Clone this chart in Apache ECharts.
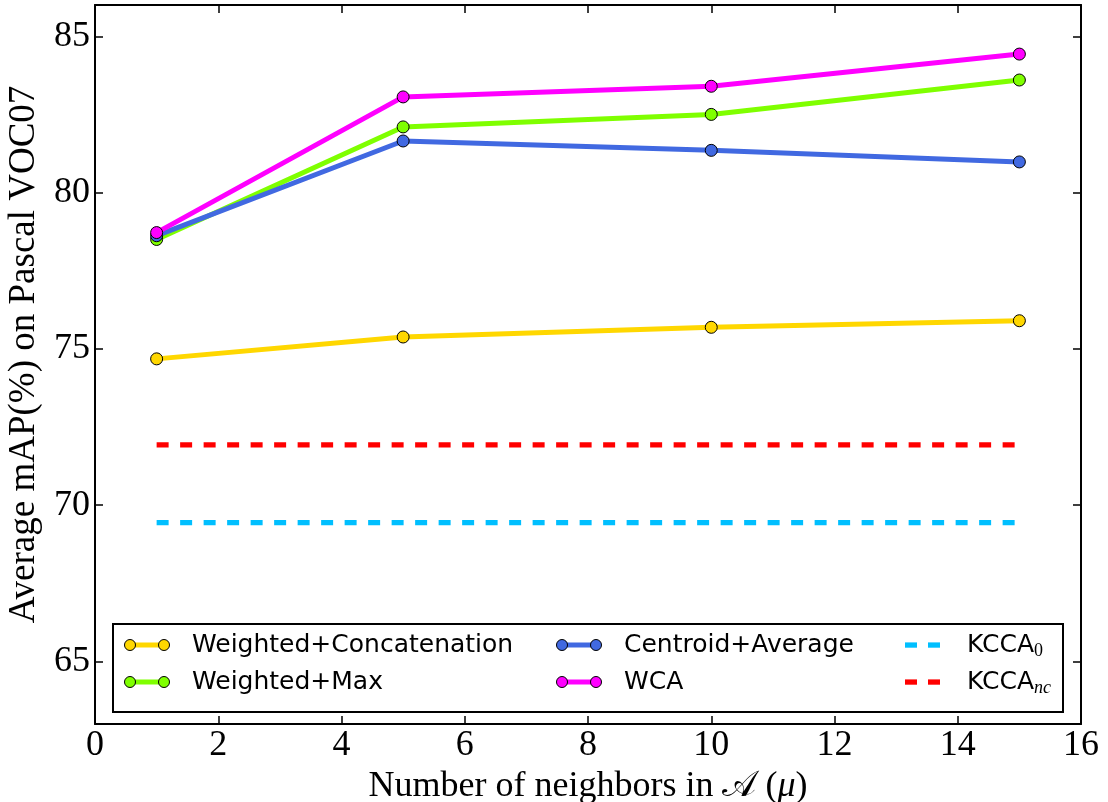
<!DOCTYPE html>
<html>
<head>
<meta charset="utf-8">
<script src="https://cdn.jsdelivr.net/npm/echarts@6/dist/echarts.min.js"></script>
<style>html,body{margin:0;padding:0;background:#fff}#c{width:1108px;height:802px}</style>
</head>
<body>
<div id="c"></div>
<script>
// ---- data ----
const xValues = [1, 5, 10, 15];
const weightedConcat = [74.68, 75.38, 75.69, 75.90];
const weightedMax = [78.50, 82.10, 82.50, 83.60];
const centroidAvg = [78.62, 81.65, 81.35, 80.98];
const wca = [78.72, 83.06, 83.40, 84.43];
const kccaX = [1, 15];
const kcca0 = [69.44, 69.44];
const kccaNc = [71.93, 71.93];
const yTickValues = [65, 70, 75, 80, 85];
const seriesNames = ['Weighted+Concatenation', 'Weighted+Max', 'Centroid+Average', 'WCA', 'KCCA_0', 'KCCA_nc'];
const xAxisTitle = 'Number of neighbors in {s|𝒜} ({i|μ})';
const yAxisTitle = 'Average mAP(%) on Pascal VOC07';

// ---- styles ----
const colors = ['#FFD700', '#7FFF00', '#4169E1', '#FF00FF', '#00BFFF', '#FF0000'];
const serif = "'Liberation Serif', 'Times New Roman', serif";

function pairs(xs, ys) { return xs.map((x, i) => [x, ys[i]]); }

function dumbbell(color) {
  const svg = '<svg xmlns="http://www.w3.org/2000/svg" width="63" height="14" viewBox="0 0 63 14">' +
    '<line x1="6" y1="7" x2="40" y2="7" stroke="' + color + '" stroke-width="5"/>' +
    '<circle cx="6" cy="7" r="5.5" fill="' + color + '" stroke="#000" stroke-width="1"/>' +
    '<circle cx="40" cy="7" r="5.5" fill="' + color + '" stroke="#000" stroke-width="1"/></svg>';
  return 'image://data:image/svg+xml;charset=utf-8,' + encodeURIComponent(svg);
}
function dashIcon(color) {
  const svg = '<svg xmlns="http://www.w3.org/2000/svg" width="63" height="14" viewBox="0 0 63 14">' +
    '<rect x="6" y="4.4" width="12" height="5.3" fill="' + color + '"/>' +
    '<rect x="29" y="4.4" width="12" height="5.3" fill="' + color + '"/></svg>';
  return 'image://data:image/svg+xml;charset=utf-8,' + encodeURIComponent(svg);
}

function solidSeries(idx, ys) {
  return {
    name: seriesNames[idx], type: 'line', data: pairs(xValues, ys),
    symbol: 'circle', symbolSize: 12, showSymbol: true,
    lineStyle: { width: 5, color: colors[idx] },
    itemStyle: { color: colors[idx], borderColor: '#000', borderWidth: 1 },
    emphasis: { disabled: true }, z: 2 + idx
  };
}
function dashedSeries(idx, ys) {
  return {
    name: seriesNames[idx], type: 'line', data: pairs(kccaX, ys),
    symbol: 'none',
    lineStyle: { width: 5.3, color: colors[idx], type: [12, 11.5], cap: 'butt' },
    itemStyle: { color: colors[idx] },
    emphasis: { disabled: true }, z: 2
  };
}

const axisLineStyle = { show: true, onZero: false, lineStyle: { color: '#000', width: 2 } };
const tickStyle = { show: true, inside: true, length: 8, lineStyle: { color: '#000', width: 1.5 } };

const chart = echarts.init(document.getElementById('c'), null, { renderer: 'canvas' });
chart.setOption({
  animation: false,
  backgroundColor: '#fff',
  grid: { left: 95, right: 27, top: 5, bottom: 78, containLabel: false, outerBoundsMode: 'none' },
  xAxis: [
    {
      type: 'value', position: 'bottom', min: 0, max: 16, interval: 2,
      axisLine: axisLineStyle, axisTick: tickStyle, splitLine: { show: false },
      axisLabel: { color: '#000', fontFamily: serif, fontSize: 36, margin: 4 },
      name: xAxisTitle, nameLocation: 'middle', nameGap: 36,
      nameTextStyle: {
        color: '#000', fontFamily: serif, fontSize: 36,
        rich: {
          s: { fontSize: 36, color: '#000', fontFamily: "'DejaVu Serif', 'DejaVu Sans', serif" },
          i: { fontSize: 36, color: '#000', fontStyle: 'italic', fontFamily: serif }
        }
      }
    },
    {
      type: 'value', position: 'top', min: 0, max: 16, interval: 2,
      axisLine: axisLineStyle, axisTick: tickStyle, splitLine: { show: false },
      axisLabel: { show: false }
    }
  ],
  yAxis: [
    {
      type: 'value', position: 'left', min: 63, max: 86,
      axisLine: axisLineStyle,
      axisTick: Object.assign({}, tickStyle, { customValues: yTickValues }),
      splitLine: { show: false },
      axisLabel: { color: '#000', fontFamily: serif, fontSize: 36, margin: 5, customValues: yTickValues },
      name: yAxisTitle, nameLocation: 'middle', nameGap: 47,
      nameTextStyle: { color: '#000', fontFamily: serif, fontSize: 37, padding: [0, 0, 0, 20] }
    },
    {
      type: 'value', position: 'right', min: 63, max: 86,
      axisLine: axisLineStyle,
      axisTick: Object.assign({}, tickStyle, { customValues: yTickValues }),
      splitLine: { show: false },
      axisLabel: { show: false, customValues: yTickValues }
    }
  ],
  legend: {
    orient: 'horizontal', left: 113, top: 624, width: 940,
    padding: [6, 6, 15, 11], itemGap: 7, itemWidth: 63, itemHeight: 14,
    borderColor: '#000', borderWidth: 2, backgroundColor: '#fff',
    selectedMode: false,
    textStyle: {
      fontFamily: "'DejaVu Sans', sans-serif", fontSize: 25, color: '#000', lineHeight: 30,
      rich: {
        sub: { fontFamily: serif, fontSize: 18, color: '#000', lineHeight: 14, verticalAlign: 'bottom' },
        subi: { fontFamily: serif, fontSize: 18, fontStyle: 'italic', color: '#000', lineHeight: 14, verticalAlign: 'bottom' }
      }
    },
    formatter: function (name) {
      if (name === 'KCCA_0') return 'KCCA{sub|0}';
      if (name === 'KCCA_nc') return 'KCCA{subi|nc}';
      return name;
    },
    data: [
      { name: seriesNames[0], icon: dumbbell(colors[0]), textStyle: { width: 357 } },
      { name: seriesNames[2], icon: dumbbell(colors[2]), textStyle: { width: 268 } },
      { name: seriesNames[4], icon: dashIcon(colors[4]), textStyle: { width: 90 } },
      { name: seriesNames[1], icon: dumbbell(colors[1]), textStyle: { width: 357 } },
      { name: seriesNames[3], icon: dumbbell(colors[3]), textStyle: { width: 268 } },
      { name: seriesNames[5], icon: dashIcon(colors[5]), textStyle: { width: 90 } }
    ]
  },
  series: [
    dashedSeries(4, kcca0),
    dashedSeries(5, kccaNc),
    solidSeries(0, weightedConcat),
    solidSeries(1, weightedMax),
    solidSeries(2, centroidAvg),
    solidSeries(3, wca)
  ]
});
</script>
</body>
</html>
